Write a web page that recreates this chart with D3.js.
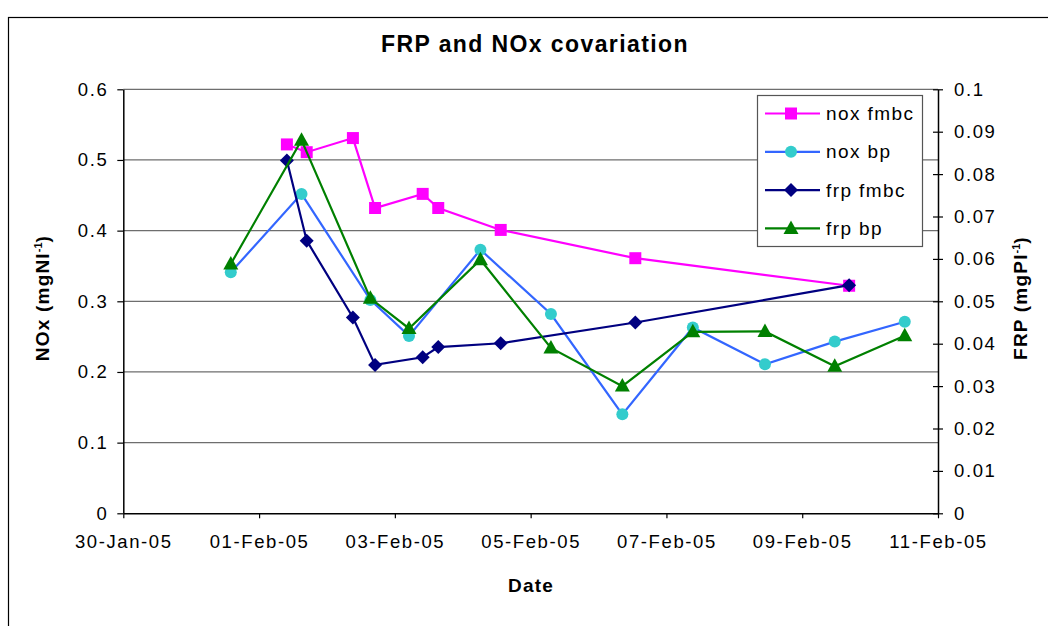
<!DOCTYPE html>
<html>
<head>
<meta charset="utf-8">
<script src="https://cdn.jsdelivr.net/npm/d3@7/dist/d3.min.js"></script>
<style>
  body { margin: 0; background: #fff; }
  text { font-family: "Liberation Sans", Arial, sans-serif; fill: #000; }
</style>
</head>
<body>
<script>
// sampling times, bp site and fmbc site
const bpDates = ["2005-01-31T14:00", "2005-02-01T15:00", "2005-02-02T15:20", "2005-02-03T05:00",
  "2005-02-04T06:15", "2005-02-05T07:10", "2005-02-06T08:25", "2005-02-07T09:20",
  "2005-02-08T10:50", "2005-02-09T11:30", "2005-02-10T12:15"];
const noxBp = [0.341, 0.452, 0.302, 0.251, 0.373, 0.282, 0.140, 0.263, 0.211, 0.243, 0.271];
const frpBp = [0.0588, 0.0880, 0.0507, 0.0436, 0.0598, 0.0390, 0.0300, 0.0428, 0.0429, 0.0347, 0.0419];

const fmbcDates = ["2005-02-01T09:50", "2005-02-01T16:50", "2005-02-02T09:10", "2005-02-02T17:00",
  "2005-02-03T09:50", "2005-02-03T15:20", "2005-02-04T13:25", "2005-02-06T13:00", "2005-02-09T16:35"];
const noxFmbc = [0.522, 0.511, 0.531, 0.432, 0.452, 0.432, 0.401, 0.361, 0.322];
const frpFmbc = [0.0832, 0.0643, 0.0462, 0.0350, 0.0368, 0.0392, 0.0401, 0.0450, 0.0538];

const xTickDates = ["2005-01-30", "2005-02-01", "2005-02-03", "2005-02-05", "2005-02-07", "2005-02-09", "2005-02-11"];
const leftTicks = [0, 0.1, 0.2, 0.3, 0.4, 0.5, 0.6];
const rightTicks = [0, 0.01, 0.02, 0.03, 0.04, 0.05, 0.06, 0.07, 0.08, 0.09, 0.1];

const parseT = d3.timeParse("%Y-%m-%dT%H:%M");
const parseD = d3.timeParse("%Y-%m-%d");

const W = 1048, H = 626;
const plotL = 123.3, plotR = 938, plotT = 89.3, plotB = 513.3;

const svg = d3.select("body").append("svg")
  .attr("width", W)
  .attr("height", H);

// chart frame
svg.append("rect")
  .attr("x", 8.5).attr("y", 17.5)
  .attr("width", 1200).attr("height", 800)
  .attr("fill", "#fff")
  .attr("stroke", "#000")
  .attr("stroke-width", 1.2);

const x = d3.scaleTime()
  .domain([parseD(xTickDates[0]), parseD(xTickDates[xTickDates.length - 1])])
  .range([plotL, plotR]);
const yL = d3.scaleLinear().domain([0, 0.6]).range([plotB, plotT]);
const yR = d3.scaleLinear().domain([0, 0.1]).range([plotB, plotT]);

// grid
svg.append("g").selectAll("line")
  .data(leftTicks.slice(1))
  .enter().append("line")
  .attr("x1", plotL).attr("x2", plotR)
  .attr("y1", d => yL(d)).attr("y2", d => yL(d))
  .attr("stroke", "#6e6e6e")
  .attr("stroke-width", 1.3);

const LS = "1.6px";

// left axis
const gL = svg.append("g")
  .attr("transform", "translate(" + plotL + ",0)")
  .call(d3.axisLeft(yL).tickValues(leftTicks).tickSize(6).tickSizeOuter(0).tickPadding(9)
    .tickFormat(d => String(+d.toFixed(2))));

// right axis
const gR = svg.append("g")
  .attr("transform", "translate(" + plotR + ",0)")
  .call(d3.axisRight(yR).tickValues(rightTicks).tickSize(5).tickSizeOuter(0).tickPadding(11)
    .tickFormat(d => String(+d.toFixed(3))));
gR.selectAll(".tick line").attr("x1", -5);

// bottom axis
const gX = svg.append("g")
  .attr("transform", "translate(0," + plotB + ")")
  .call(d3.axisBottom(x).tickValues(xTickDates.map(parseD)).tickSize(5).tickSizeOuter(0).tickPadding(17)
    .tickFormat(d3.timeFormat("%d-%b-%y")));

[gL, gR, gX].forEach(g => {
  g.select(".domain").attr("stroke", "#000").attr("stroke-width", 1.5);
  g.selectAll(".tick line").attr("stroke", "#000").attr("stroke-width", 1.2);
  g.selectAll(".tick text")
    .attr("font-family", "Liberation Sans, Arial, sans-serif")
    .attr("font-size", 18.5)
    .style("letter-spacing", LS);
});

// line series
const series = [
  { name: "nox fmbc", dates: fmbcDates, values: noxFmbc, y: yL, line: "#ff00ff", fill: "#ff00ff", shape: "square" },
  { name: "nox bp", dates: bpDates, values: noxBp, y: yL, line: "#3366ff", fill: "#33cccc", shape: "circle" },
  { name: "frp fmbc", dates: fmbcDates, values: frpFmbc, y: yR, line: "#000080", fill: "#000080", shape: "diamond" },
  { name: "frp bp", dates: bpDates, values: frpBp, y: yR, line: "#008000", fill: "#008000", shape: "triangle" }
];

const shapes = {
  square: "M-6,-6H6V6H-6Z",
  circle: "M6,0A6,6 0 1,1 -6,0A6,6 0 1,1 6,0Z",
  diamond: "M0,-7L7,0L0,7L-7,0Z",
  triangle: "M0,-8L7.5,5.5L-7.5,5.5Z"
};

series.forEach(s => {
  const pts = s.dates.map((d, i) => [x(parseT(d)), s.y(s.values[i])]);
  svg.append("path")
    .attr("d", d3.line()(pts))
    .attr("fill", "none")
    .attr("stroke", s.line)
    .attr("stroke-width", 2.2);
  svg.append("g").selectAll("path")
    .data(pts)
    .enter().append("path")
    .attr("transform", p => "translate(" + p[0] + "," + p[1] + ")")
    .attr("d", shapes[s.shape])
    .attr("fill", s.fill);
});

// legend
const lg = svg.append("g");
lg.append("rect")
  .attr("x", 757.5).attr("y", 95.5)
  .attr("width", 165).attr("height", 151)
  .attr("fill", "#fff")
  .attr("stroke", "#555")
  .attr("stroke-width", 1.2);
series.forEach((s, i) => {
  const cy = 113.5 + i * 38.3;
  lg.append("line")
    .attr("x1", 765).attr("x2", 820)
    .attr("y1", cy).attr("y2", cy)
    .attr("stroke", s.line).attr("stroke-width", 2.2);
  lg.append("path")
    .attr("transform", "translate(791," + cy + ")")
    .attr("d", shapes[s.shape])
    .attr("fill", s.fill);
  lg.append("text")
    .attr("x", 826).attr("y", cy + 6.5)
    .attr("font-size", 19)
    .style("letter-spacing", "1.4px")
    .text(s.name);
});

// titles
svg.append("text")
  .attr("x", 535).attr("y", 52)
  .attr("text-anchor", "middle")
  .attr("font-size", 23)
  .attr("font-weight", "bold")
  .style("letter-spacing", "1.4px")
  .text("FRP and NOx covariation");

svg.append("text")
  .attr("x", 531).attr("y", 592)
  .attr("text-anchor", "middle")
  .attr("font-size", 19)
  .attr("font-weight", "bold")
  .style("letter-spacing", "1.2px")
  .text("Date");

function axisTitle(cx, cy, main) {
  const t = svg.append("text")
    .attr("transform", "translate(" + cx + "," + cy + ") rotate(-90)")
    .attr("text-anchor", "middle")
    .attr("font-size", 19)
    .attr("font-weight", "bold")
    .style("letter-spacing", "1.2px");
  t.append("tspan").text(main);
  t.append("tspan").attr("dy", -7).attr("font-size", 11).style("letter-spacing", "0px").text("-1");
  t.append("tspan").attr("dy", 7).text(")");
}
axisTitle(49, 298, "NOx (mgNl");
axisTitle(1027, 298, "FRP (mgPl");
</script>
</body>
</html>
